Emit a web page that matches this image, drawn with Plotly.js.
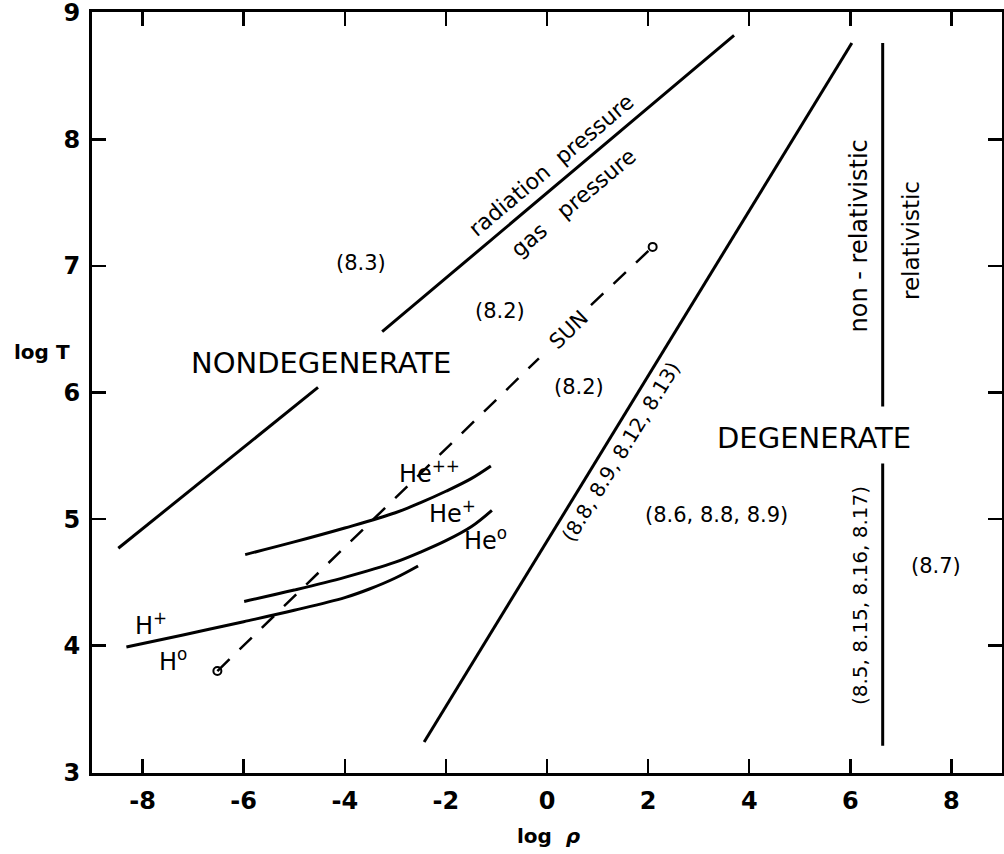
<!DOCTYPE html>
<html>
<head>
<meta charset="utf-8">
<script src="https://cdn.plot.ly/plotly-3.0.1.min.js"></script>
<style>html,body{margin:0;padding:0;background:#fff;}#chart{width:1004px;height:854px;}</style>
</head>
<body>
<div id="chart"></div>
<script>
// ---- data (x = log rho, y = log T) ----
const xTickVals = [-8, -6, -4, -2, 0, 2, 4, 6, 8];
const xTickText = ["-8", "-6", "-4", "-2", "0", "2", "4", "6", "8"];
const yTickVals = [3, 4, 5, 6, 7, 8, 9];
const yTickText = ["3", "4", "5", "6", "7", "8", "9"];

// radiation pressure = gas pressure boundary (interrupted by the NONDEGENERATE label)
const radLowX = [-8.48, -4.53];
const radLowY = [4.77, 6.04];
const radHighX = [-3.26, 3.70];
const radHighY = [6.48, 8.82];

// degeneracy boundary
const degX = [-2.43, 6.03];
const degY = [3.24, 8.76];

// relativistic / non-relativistic boundary
const relLineX = [6.64, 6.64];
const relUpperY = [8.76, 5.89];
const relLowerY = [5.44, 3.21];

// Sun model (dashed), interrupted by the SUN label
const sunLowX = [-6.52, -0.16];
const sunLowY = [3.80, 6.27];
const sunHighX = [0.87, 2.09];
const sunHighY = [6.69, 7.15];
const sunEndX = [-6.52, 2.09];
const sunEndY = [3.80, 7.15];

// ionisation curves
const hIonX = [-8.32, -7.2, -6.0, -5.0, -4.0, -3.5, -3.0, -2.55];
const hIonY = [3.99, 4.085, 4.19, 4.28, 4.38, 4.45, 4.535, 4.63];
const heIonX = [-5.99, -5.0, -4.0, -3.0, -2.5, -2.0, -1.5, -1.09];
const heIonY = [4.35, 4.44, 4.54, 4.66, 4.74, 4.83, 4.94, 5.07];
const he2IonX = [-5.97, -5.0, -4.0, -3.0, -2.5, -2.0, -1.5, -1.11];
const he2IonY = [4.72, 4.82, 4.93, 5.05, 5.13, 5.22, 5.32, 5.42];

// labels
const labelText = ["NONDEGENERATE", "DEGENERATE", "(8.3)", "(8.2)", "(8.2)", "(8.6, 8.8, 8.9)", "(8.7)",
  "(8.5, 8.15, 8.16, 8.17)", "non - relativistic", "relativistic", "SUN",
  "radiation&nbsp;&nbsp;pressure", "gas&nbsp;&nbsp;&nbsp;pressure", "(8.8, 8.9, 8.12, 8.13)",
  "H<sup>+</sup>", "H<sup>o</sup>", "He<sup>++</sup>", "He<sup>+</sup>", "He<sup>o</sup>"];
const labelX = [-4.47, 5.28, -3.68, -0.93, 0.63, 3.36, 7.69, 6.19, 6.19, 7.19, 0.43, 0.08, 0.53, 1.46,
  -7.83, -7.39, -2.33, -1.86, -1.21];
const labelY = [6.23, 5.64, 7.02, 6.64, 6.04, 5.03, 4.63, 4.40, 7.24, 7.20, 6.49, 7.79, 7.50, 5.53,
  4.17, 3.89, 5.37, 5.06, 4.84];
const labelAngle = [0, 0, 0, 0, 0, 0, 0, -90, -90, -90, -44, -40, -40, -58.5, 0, 0, 0, 0, 0];
const labelSize = [29, 29, 21, 21, 21, 21, 21, 20, 24, 23, 21, 22, 22, 20, 24, 24, 24, 24, 24];

const solid = {color: "#000", width: 3};
function seg(x, y, line) {
  return {x: x, y: y, mode: "lines", type: "scatter", line: line || solid, hoverinfo: "skip", showlegend: false};
}
const traces = [
  seg(radLowX, radLowY),
  seg(radHighX, radHighY),
  seg(degX, degY),
  seg(relLineX, relUpperY),
  seg(relLineX, relLowerY),
  seg(sunLowX, sunLowY, {color: "#000", width: 2.5, dash: "17px,14px"}),
  seg(sunHighX, sunHighY, {color: "#000", width: 2.5, dash: "17px,14px"}),
  {x: sunEndX, y: sunEndY, mode: "markers", type: "scatter", showlegend: false, hoverinfo: "skip",
   marker: {symbol: "circle-open", size: 8, color: "#000", line: {width: 2, color: "#000"}}},
  seg(hIonX, hIonY, {color: "#000", width: 3, shape: "spline", smoothing: 1}),
  seg(heIonX, heIonY, {color: "#000", width: 3, shape: "spline", smoothing: 1}),
  seg(he2IonX, he2IonY, {color: "#000", width: 3, shape: "spline", smoothing: 1})
];

const annotations = labelText.map((t, i) => ({
  x: labelX[i], y: labelY[i], xref: "x", yref: "y", text: t, showarrow: false,
  textangle: labelAngle[i], xanchor: "center", yanchor: "middle",
  font: {family: "DejaVu Sans", size: labelSize[i], color: "#000"}
}));
annotations.push({xref: "paper", yref: "paper", x: -0.055, y: 0.553, text: "log T", showarrow: false,
  xanchor: "center", yanchor: "middle", font: {family: "DejaVu Sans", size: 20, color: "#000", weight: "bold"}});
annotations.push({xref: "paper", yref: "paper", x: 0.502, y: -0.083, text: "log&nbsp;&nbsp;<i>ρ</i>", showarrow: false,
  xanchor: "center", yanchor: "middle", font: {family: "DejaVu Sans", size: 20, color: "#000", weight: "bold"}});

const axisCommon = {
  showgrid: false, zeroline: false, showline: true, linecolor: "#000", linewidth: 3,
  mirror: "ticks", ticks: "inside", ticklen: 14, tickwidth: 2.5, tickcolor: "#000",
  tickfont: {family: "DejaVu Sans", size: 24, color: "#000", weight: "bold"},
  tickmode: "array", fixedrange: true, ticklabeloverflow: "allow"
};
const layout = {
  width: 1004, height: 854,
  margin: {l: 92, r: 2, t: 12, b: 81},
  paper_bgcolor: "#fff", plot_bgcolor: "#fff",
  xaxis: Object.assign({}, axisCommon, {range: [-9, 9], tickvals: xTickVals, ticktext: xTickText, ticklabelstandoff: 4}),
  yaxis: Object.assign({}, axisCommon, {range: [2.995, 9.005], tickvals: yTickVals, ticktext: yTickText, ticklabelstandoff: 4}),
  annotations: annotations,
  showlegend: false
};
Plotly.newPlot("chart", traces, layout, {staticPlot: true, displayModeBar: false});
</script>
</body>
</html>
